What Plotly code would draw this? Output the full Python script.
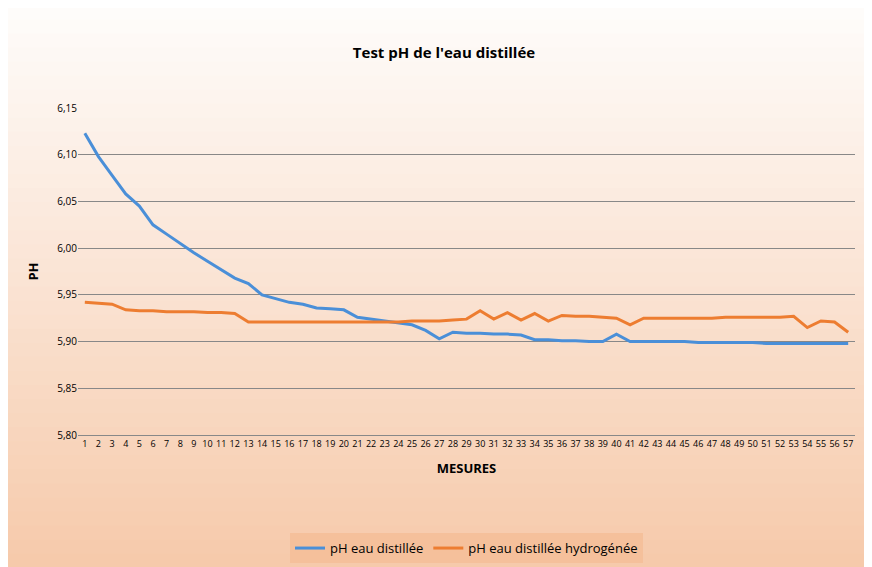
import plotly.graph_objects as go

mesures = list(range(1, 58))
ph_eau = [6.123, 6.098, 6.078, 6.058, 6.045, 6.025, 6.015, 6.005, 5.995, 5.986,
          5.977, 5.968, 5.962, 5.950, 5.946, 5.942, 5.940, 5.936, 5.935, 5.934,
          5.926, 5.924, 5.922, 5.920, 5.918, 5.912, 5.903, 5.910, 5.909, 5.909,
          5.908, 5.908, 5.907, 5.902, 5.902, 5.901, 5.901, 5.900, 5.900, 5.908,
          5.900, 5.900, 5.900, 5.900, 5.900, 5.899, 5.899, 5.899, 5.899, 5.899,
          5.898, 5.898, 5.898, 5.898, 5.898, 5.898, 5.898]
ph_hydro = [5.942, 5.941, 5.940, 5.934, 5.933, 5.933, 5.932, 5.932, 5.932, 5.931,
            5.931, 5.930, 5.921, 5.921, 5.921, 5.921, 5.921, 5.921, 5.921, 5.921,
            5.921, 5.921, 5.921, 5.921, 5.922, 5.922, 5.922, 5.923, 5.924, 5.933,
            5.924, 5.931, 5.923, 5.930, 5.922, 5.928, 5.927, 5.927, 5.926, 5.925,
            5.918, 5.925, 5.925, 5.925, 5.925, 5.925, 5.925, 5.926, 5.926, 5.926,
            5.926, 5.926, 5.927, 5.915, 5.922, 5.921, 5.910]

fig = go.Figure()
fig.add_trace(go.Scatter(x=mesures, y=ph_eau, mode="lines", name="pH eau distillée",
                         line=dict(color="#4a8fd8", width=3)))
fig.add_trace(go.Scatter(x=mesures, y=ph_hydro, mode="lines", name="pH eau distillée hydrogénée",
                         line=dict(color="#ed7d31", width=3)))

# gradient background
n = 50
top = (255, 255, 255)
bot = (245, 192, 155)
y_hi, y_lo = 1.4, -0.75
shapes = []
for i in range(n):
    f = i / (n - 1)
    c = tuple(int(top[k] + (bot[k] - top[k]) * f) for k in range(3))
    step = (y_hi - y_lo) / n
    shapes.append(dict(type="rect", xref="paper", yref="paper", x0=-0.3, x1=1.3,
                       y0=y_hi - (i + 1) * step - 0.01, y1=y_hi - i * step,
                       fillcolor="rgb(%d,%d,%d)" % c, line=dict(width=0), layer="below"))

fig.update_layout(
    width=872, height=567, shapes=shapes,
    paper_bgcolor="#f5c09b", plot_bgcolor="rgba(0,0,0,0)",
    separators=",.",
    font=dict(family="Open Sans, Arial", size=11, color="#000"),
    title=dict(text="<b>Test pH de l'eau distillée</b>", x=0.5, y=0.93, font=dict(size=15)),
    margin=dict(l=70, r=25, t=100, b=120),
    legend=dict(orientation="h", x=0.5, xanchor="center", y=-0.3, font=dict(size=13)),
    xaxis=dict(title=dict(text="<b>MESURES</b>", font=dict(size=13)), tickmode="array",
               tickvals=mesures, tickfont=dict(size=9), tickangle=0, showgrid=False,
               range=[0.5, 57.5], showline=True, linecolor="#888"),
    yaxis=dict(title=dict(text="<b>PH</b>", font=dict(size=13)), range=[5.80, 6.15], dtick=0.05,
               tickformat=".2f", gridcolor="#888", zeroline=False, tickfont=dict(size=10)),
)
fig.write_html("out.html")
